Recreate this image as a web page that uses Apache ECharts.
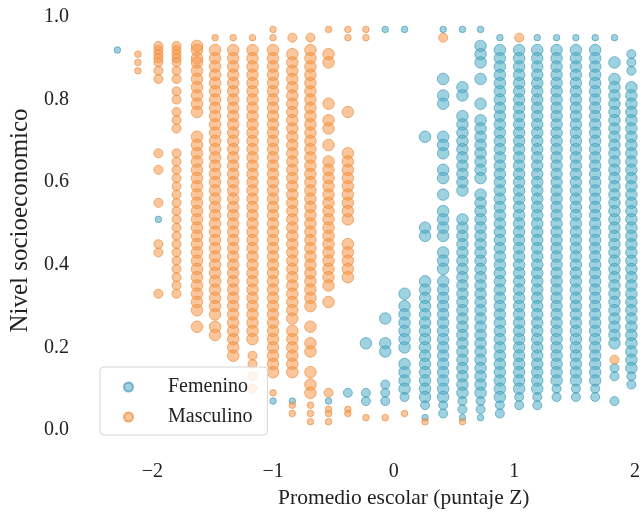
<!DOCTYPE html>
<html>
<head>
<meta charset="utf-8">
<script src="https://cdn.jsdelivr.net/npm/echarts@6/dist/echarts.min.js"></script>
<style>
  html, body { margin: 0; padding: 0; background: #fff; }
  #chart { width: 643px; height: 514px; }
</style>
</head>
<body>
<div id="chart"></div>
<script>
// columns of points: [puntaje Z, [nivel socioeconomico x100, ...]]
// grouped by weight (large / medium / small markers)
var femLarge = [
  [-0.23, [21]],
  [-0.07, [27,21,19]],
  [0.09, [33,30,28,26,24,22,20,16,14,12,10]],
  [0.26, [71,49,47,36,34,32,30,28,26,24,22,20,18,16,14,12,10,8]],
  [0.41, [85,81,79,71,69,67,63,61,57,53,51,49,47,43,41,39,36,34,32,30,28,26,24,22,20,18,16,14,12,10,8]],
  [0.57, [83,81,76,74,72,70,68,66,64,62,60,58,51,49,47,45,43,41,39,37,35,33,31,29,27,25,23,21,19,17,15,13,11,9]],
  [0.72, [93,91,89,85,79,75,73,71,69,67,65,63,61,57,55,53,51,49,47,45,43,41,39,37,35,33,31,29,27,25,23,21,19,17,15,13,11,9]],
  [0.88, [92,90,88,86,84,82,80,78,76,74,72,70,68,66,64,62,60,58,56,54,52,50,48,46,44,42,40,38,36,34,32,30,28,26,24,22,20,18,16,14,12,10,8]],
  [1.04, [92,90,88,86,84,82,80,78,76,74,72,70,68,66,64,62,60,58,56,54,52,50,48,46,44,42,40,38,36,34,32,30,28,26,24,22,20,18,16,14,12,10]],
  [1.19, [92,90,88,86,84,82,80,78,76,74,72,70,68,66,64,62,60,58,56,54,52,50,48,46,44,42,40,38,36,34,32,30,28,26,24,22,20,18,16,14,12,10]],
  [1.35, [92,90,88,86,84,82,80,78,76,74,72,70,68,66,64,62,60,58,56,54,52,50,48,46,44,42,40,38,36,34,32,30,28,26,24,22,20,18,16,14,12]],
  [1.51, [92,90,88,86,84,82,80,78,76,74,72,70,68,66,64,62,60,58,56,54,52,50,48,46,44,42,40,38,36,34,32,30,28,26,24,22,20,18,16,14,12]],
  [1.67, [92,90,88,86,84,82,80,78,76,74,72,70,68,66,64,62,60,58,56,54,52,50,48,46,44,42,40,38,36,34,32,30,28,26,24,22,20,18,16,14,12]],
  [1.83, [89,85,83,81,79,77,75,73,71,69,67,65,63,61,59,57,55,53,51,49,47,45,43,41,39,37,35,33,31,29,27,25,23,21]],
  [1.97, [83,81,79,77,75,73,71,69,67,65,63,61,59,57,55,53,51,49,47,45,43,41,39,37,35,33,31,29,27,25,23,21,19,17,15]]
];
var femMedium = [
  [-0.38, [9]], [-0.23, [9,7]], [-0.07, [11,9,7]], [0.09, [8]], [0.26, [6]],
  [0.41, [6,4]], [0.57, [7,5]], [0.72, [7,5]], [0.88, [6,4]], [1.04, [8,6]],
  [1.19, [8,6]], [1.35, [10,8]], [1.51, [10,8]], [1.67, [10,8]],
  [1.83, [15,13,7]], [1.97, [91,89,87,13,11]]
];
var femSmall = [
  [-2.29, [92]], [-1.95, [51]], [-1.00, [7]], [-0.84, [7]], [-0.54, [7]],
  [-0.07, [97]], [0.09, [97]], [0.26, [3]], [0.41, [97]], [0.57, [97,3]],
  [0.72, [97,3]], [0.88, [95]], [1.19, [95]], [1.35, [95]], [1.51, [95]],
  [1.67, [95]], [1.83, [95]]
];

var maleLarge = [
  [-1.63, [93,92,90,89,87,85,83,81,79,77,71,69,67,65,63,61,59,57,55,53,51,49,47,45,43,41,39,37,35,33,31,29,25]],
  [-1.48, [92,90,88,86,84,82,80,78,76,74,72,70,68,66,64,62,60,58,56,54,52,50,48,46,44,42,40,38,36,34,32,30,28,25,23]],
  [-1.33, [92,90,88,86,84,82,80,78,76,74,72,70,68,66,64,62,60,58,56,54,52,50,48,46,44,42,40,38,36,34,32,30,28,26,24,22,20,18]],
  [-1.17, [92,90,88,86,84,82,80,78,76,74,72,70,68,66,64,62,60,58,56,54,52,50,48,46,44,42,40,38,36,34,32,30,28,26,24,22]],
  [-1.00, [92,90,88,86,84,82,80,78,76,74,72,70,68,66,64,62,60,58,56,54,52,50,48,46,44,42,40,38,36,34,32,30,28,26,24,22,20,18,16,14]],
  [-0.84, [91,89,87,85,83,81,79,77,75,73,71,69,67,65,63,61,59,57,55,53,51,49,47,45,43,41,39,37,35,33,31,29,27,24,22,20,18,16,14]],
  [-0.69, [92,90,88,86,84,82,80,78,76,74,72,70,68,66,64,62,60,58,56,54,52,50,48,46,44,42,40,38,36,34,32,30,25,21,19,14,11,9]],
  [-0.54, [91,89,79,75,73,69,65,63,61,59,57,55,53,51,49,47,45,43,41,39,37,35,31]],
  [-0.38, [77,67,65,63,61,59,57,55,53,51,45,43,41,39,37]]
];
var maleMedium = [
  [-1.95, [93,92,91,90,89,87,85,67,63,55,45,43,33]],
  [-1.80, [93,92,91,90,89,87,85,82,80,77,75,73,67,65,63,61,59,57,55,53,51,49,47,45,43,41,39,37,35,33]],
  [-1.17, [18,16,13,10]], [-0.84, [95]], [-0.69, [95]], [-0.54, [9]],
  [0.41, [95]], [1.04, [95]], [1.83, [17]]
];
var maleSmall = [
  [-2.12, [91,89,87]], [-1.48, [95]], [-1.33, [95]], [-1.17, [95]],
  [-1.00, [97,95,9]], [-0.84, [6,4]], [-0.69, [6,4,2]], [-0.54, [97,5,4,2]],
  [-0.38, [97,95,5,4]], [-0.23, [97,95,3]], [-0.07, [3]], [0.09, [4]],
  [0.26, [2]], [0.57, [2]]
];

var xTicks = [-2, -1, 0, 1, 2];
var yTicks = [0, 0.2, 0.4, 0.6, 0.8, 1.0];

function points(groups, w) {
  var out = [];
  groups.forEach(function (g) {
    g[1].forEach(function (y) { out.push([g[0], y / 100, w]); });
  });
  return out;
}
var sizeByWeight = { 1: 6.5, 2: 9, 3: 11.5 };

var fem = points(femLarge, 3).concat(points(femMedium, 2), points(femSmall, 1));
var male = points(maleLarge, 3).concat(points(maleMedium, 2), points(maleSmall, 1));

var font = 'Liberation Serif';
var chart = echarts.init(document.getElementById('chart'));

var option = {
  animation: false,
  backgroundColor: '#fff',
  grid: { left: 90, right: 0, top: 8, bottom: 63, containLabel: false },
  legend: {
    data: ['Femenino', 'Masculino'],
    orient: 'vertical',
    left: 100,
    top: 367,
    icon: 'circle',
    itemWidth: 9,
    itemHeight: 9,
    itemGap: 10,
    padding: [10, 15, 8, 23],
    backgroundColor: 'rgba(255,255,255,0.8)',
    borderColor: '#d6d6d6',
    borderWidth: 1,
    borderRadius: 4,
    textStyle: { fontFamily: font, fontSize: 20, color: '#222', padding: [0, 0, 0, 30] }
  },
  xAxis: {
    type: 'value',
    min: -2.517,
    max: 2.054,
    name: 'Promedio escolar (puntaje Z)',
    nameLocation: 'middle',
    nameGap: 34,
    nameTextStyle: { fontFamily: font, fontSize: 21.5, color: '#222', padding: [0, 0, 0, 76] },
    axisLine: { show: false },
    axisTick: { show: false },
    splitLine: { show: false },
    axisLabel: {
      customValues: xTicks,
      margin: 11,
      fontFamily: font,
      fontSize: 20,
      color: '#222',
      formatter: function (v) { return v < 0 ? '\u2212' + Math.abs(v) : String(v); }
    }
  },
  yAxis: {
    type: 'value',
    min: -0.0508,
    max: 1.0218,
    name: 'Nivel socioeconomico',
    nameLocation: 'middle',
    nameGap: 53,
    nameTextStyle: { fontFamily: font, fontSize: 25, color: '#222', padding: [0, 0, 0, 18] },
    axisLine: { show: false },
    axisTick: { show: false },
    splitLine: { show: false },
    axisLabel: {
      customValues: yTicks,
      margin: 21,
      fontFamily: font,
      fontSize: 20,
      color: '#222',
      formatter: function (v) { return v.toFixed(1); }
    }
  },
  series: [
    {
      name: 'Femenino',
      type: 'scatter',
      data: fem,
      symbolSize: function (v) { return sizeByWeight[v[2]]; },
      itemStyle: {
        color: 'rgba(75,172,198,0.68)',
        borderColor: 'rgba(60,150,180,0.8)',
        borderWidth: 1
      }
    },
    {
      name: 'Masculino',
      type: 'scatter',
      data: male,
      symbolSize: function (v) { return sizeByWeight[v[2]]; },
      itemStyle: {
        color: 'rgba(247,150,70,0.68)',
        borderColor: 'rgba(235,135,50,0.8)',
        borderWidth: 1
      }
    }
  ]
};

chart.setOption(option);
</script>
</body>
</html>
